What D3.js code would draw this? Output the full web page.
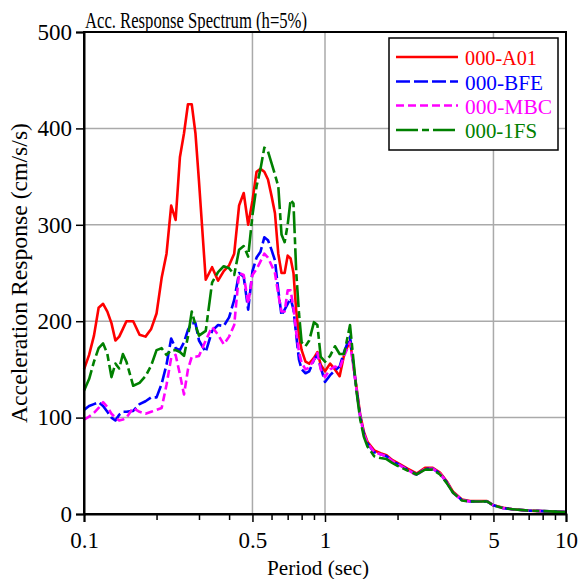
<!DOCTYPE html>
<html lang="en">
<head>
<meta charset="UTF-8">
<title>Acc. Response Spectrum</title>
<script src="https://cdn.jsdelivr.net/npm/d3@7/dist/d3.min.js"></script>
<style>
    body { margin: 0; background: #fff; }
</style>
</head>
<body>
<script>
// periods (sec)
const periods = [0.10,0.105,0.11,0.115,0.12,0.125,0.13,0.135,0.14,0.145,0.15,
    0.16,0.17,0.18,0.19,0.20,0.21,0.22,0.23,0.24,0.25,0.26,0.27,0.28,0.29,0.30,
    0.32,0.34,0.36,0.38,0.40,0.42,0.44,0.46,0.48,0.50,0.52,0.54,0.56,0.58,0.60,
    0.62,0.64,0.66,0.68,0.70,0.72,0.74,0.76,0.78,0.80,
    0.83,0.86,0.90,0.93,0.96,1.00,1.05,1.10,1.15,1.20,1.27,
    1.35,1.40,1.45,1.50,1.60,1.70,1.80,1.90,2.0,2.2,2.4,2.6,2.8,3.0,3.2,3.4,3.7,
    4.0,4.5,4.7,5.0,5.5,6,7,8,9,10];

// acceleration response (cm/s/s)
const a01 = [150,165,185,214,218,210,198,180,184,192,200,
    200,186,184,192,208,245,270,320,305,370,395,425,425,395,345,
    243,256,242,252,258,270,320,333,300,325,355,358,355,347,330,
    312,270,250,250,268,265,250,210,185,170,
    158,156,162,168,155,148,156,150,143,165,180,
    132,103,85,75,66,63,61,56,53,47,42,48,48,43,34,23,15,
    13.5,13.5,13.5,9,6.5,5,3.5,3,2.5,2];
const bfe = [108,112,114,116,112,106,100,97,103,106,106,
    107,114,117,121,121,135,155,182,172,170,178,191,198,198,180,
    168,190,196,195,204,222,250,246,212,252,266,272,287,284,274,
    263,232,206,212,218,224,212,185,160,150,
    146,148,160,165,152,137,144,149,153,168,184,
    130,101,83,73,64,62,60,55,52,46,41,47,47,42,33,22,14.5,
    13,13,13,9,6,5,3.5,3,2.5,2];
const mbc = [98,101,105,110,116,111,104,100,97,98,100,
    110,106,104,106,108,110,134,162,165,145,124,150,163,163,164,
    180,194,186,176,184,196,250,248,218,248,254,262,270,266,258,
    250,228,210,210,232,232,214,188,168,157,
    150,152,160,167,150,142,150,153,151,164,178,
    130,101,83,74,64,62,60,55,52,46,40,47,47,42,33,22,14.5,
    13,13,13,9,6,5,3.5,3,2.5,2];
const fs1 = [128,140,158,172,177,166,142,156,151,166,158,
    133,136,143,154,170,172,165,170,170,168,164,184,210,196,185,
    190,240,251,257,255,248,274,278,267,310,340,358,380,376,364,
    352,340,290,282,300,326,322,250,208,178,
    174,180,199,196,163,158,164,174,166,166,196,
    128,98,80,70,60,58,57,53,50,45,41,46,46,41,32,22,14,
    13,13,13,9,6,5,3.5,3,2.5,2];

const seriesNames = ["000-A01", "000-BFE", "000-MBC", "000-1FS"];
const seriesValues = [a01, bfe, mbc, fs1];
const seriesColors = ["#ff0000", "#0000ff", "#ff00ff", "#008000"];
const seriesDash = [null, "14,4", "8,4", "22,4,7,4"];
const labelWidths = [72, 78, 87, 72];

const xMajor = [0.1, 0.5, 1, 5, 10];
const xMinor = [0.2, 0.3, 0.4, 0.6, 0.7, 0.8, 0.9, 2, 3, 4, 6, 7, 8, 9];
const yTicks = [0, 100, 200, 300, 400, 500];

const W = 578, H = 579;
const mLeft = 84, mRight = 566, mTop = 32, mBottom = 514;
const serif = "'Liberation Serif', 'Times New Roman', Times, serif";

const svg = d3.select("body").append("svg")
    .attr("width", W)
    .attr("height", H);

const x = d3.scaleLog().domain([0.1, 10]).range([mLeft, mRight]);
const y = d3.scaleLinear().domain([0, 500]).range([mBottom, mTop]);

// grid
svg.append("g")
   .selectAll("line")
   .data([0.5, 1, 5])
   .enter()
   .append("line")
   .attr("x1", d => x(d)).attr("x2", d => x(d))
   .attr("y1", mTop).attr("y2", mBottom)
   .attr("stroke", "#aaaaaa")
   .attr("stroke-width", 1.5);

svg.append("g")
   .selectAll("line")
   .data([100, 200, 300, 400])
   .enter()
   .append("line")
   .attr("x1", mLeft).attr("x2", mRight)
   .attr("y1", d => y(d)).attr("y2", d => y(d))
   .attr("stroke", "#aaaaaa")
   .attr("stroke-width", 1.5);

// curves
const line = d3.line()
    .x((d, i) => x(periods[i]))
    .y(d => y(d));

seriesValues.forEach((vals, k) => {
    svg.append("path")
       .datum(vals)
       .attr("d", line)
       .attr("fill", "none")
       .attr("stroke", seriesColors[k])
       .attr("stroke-width", 2.6)
       .attr("stroke-linejoin", "round")
       .attr("stroke-dasharray", seriesDash[k]);
});

// axes
const xAxis = svg.append("g")
    .attr("transform", `translate(0,${mBottom})`)
    .call(d3.axisBottom(x).tickValues(xMajor).tickSize(8).tickPadding(10)
        .tickFormat(d => String(d)));

svg.append("g")
   .attr("transform", `translate(0,${mBottom})`)
   .call(d3.axisBottom(x).tickValues(xMinor).tickSize(6).tickFormat(""))
   .select(".domain").remove();

const yAxis = svg.append("g")
    .attr("transform", `translate(${mLeft},0)`)
    .call(d3.axisLeft(y).tickValues(yTicks).tickSize(8).tickPadding(4));

svg.selectAll(".tick line").attr("stroke", "#000").attr("stroke-width", 1.5);
svg.selectAll(".domain").attr("stroke", "#000").attr("stroke-width", 2);
xAxis.selectAll("text").attr("font-size", 23).attr("fill", "#000");
yAxis.selectAll("text").attr("font-size", 23).attr("fill", "#000");

// frame
svg.append("rect")
   .attr("x", mLeft).attr("y", mTop)
   .attr("width", mRight - mLeft).attr("height", mBottom - mTop)
   .attr("fill", "none")
   .attr("stroke", "#000")
   .attr("stroke-width", 2);

// title and labels
svg.append("text")
   .attr("x", 85).attr("y", 28)
   .attr("font-size", 24)
   .attr("textLength", 222).attr("lengthAdjust", "spacingAndGlyphs")
   .text("Acc. Response Spectrum (h=5%)");

svg.append("text")
   .attr("x", 318).attr("y", 575)
   .attr("text-anchor", "middle")
   .attr("font-size", 22)
   .attr("textLength", 102).attr("lengthAdjust", "spacingAndGlyphs")
   .text("Period (sec)");

svg.append("text")
   .attr("transform", `translate(27,${(mTop + mBottom) / 2}) rotate(-90)`)
   .attr("text-anchor", "middle")
   .attr("font-size", 23)
   .attr("textLength", 300).attr("lengthAdjust", "spacingAndGlyphs")
   .text("Acceleration Response (cm/s/s)");

// legend
const lg = svg.append("g");
lg.append("rect")
  .attr("x", 389).attr("y", 38)
  .attr("width", 169).attr("height", 112)
  .attr("fill", "#fff")
  .attr("stroke", "#000")
  .attr("stroke-width", 1.5);

const rowY = [57, 81.5, 105.5, 130];
seriesNames.forEach((name, k) => {
    lg.append("line")
      .attr("x1", 396).attr("x2", 458)
      .attr("y1", rowY[k]).attr("y2", rowY[k])
      .attr("stroke", seriesColors[k])
      .attr("stroke-width", 2.6)
      .attr("stroke-dasharray", seriesDash[k]);
    lg.append("text")
      .attr("x", 465).attr("y", rowY[k] + 8)
      .attr("font-size", 20)
      .attr("fill", seriesColors[k])
      .attr("textLength", labelWidths[k]).attr("lengthAdjust", "spacingAndGlyphs")
      .text(name);
});

// all text in a Times-like face
svg.selectAll("text").style("font-family", serif);
</script>
</body>
</html>
